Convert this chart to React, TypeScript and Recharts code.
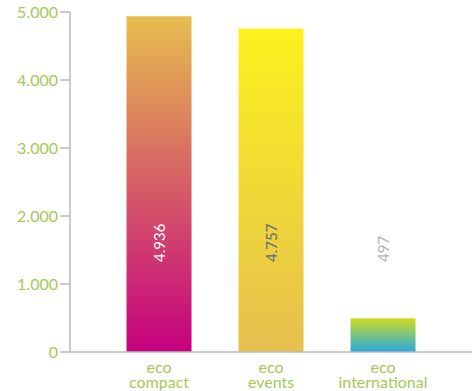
import React from "react";
import { BarChart, Bar, XAxis, YAxis, Cell, LabelList } from "recharts";

const categories = ["eco\ncompact", "eco\nevents", "eco\ninternational"];
const values = [4936, 4757, 497];
const yTicks = [0, 1000, 2000, 3000, 4000, 5000];
const valueLabels = ["4.936", "4.757", "497"];

const gradients = [
  { id: "gCompact", top: "#e6bd4e", bottom: "#c5007f" },
  { id: "gEvents", top: "#fcf11e", bottom: "#e5bf4f" },
  { id: "gIntl", top: "#d0dd22", bottom: "#27a9e1" },
];
const labelColors = ["#ffffff", "#5f6b78", "#b3b3b3"];

const data = categories.map((c, i) => ({ name: c, value: values[i], label: valueLabels[i], idx: i }));

const GREEN = "#a4c958";
const AXIS = "#b8b8b8";
const FONT = "Lato, 'Open Sans', sans-serif";

const fmt = (v: number) => v.toLocaleString("de-DE");

const XTick = (props: any) => {
  const { x, y, payload } = props;
  const lines = String(payload.value).split("\n");
  return (
    <g>
      {lines.map((l: string, i: number) => (
        <text
          key={i}
          x={x}
          y={y + 13 + i * 15}
          textAnchor="middle"
          fill={GREEN}
          fontFamily={FONT}
          fontWeight={400}
          fontSize={16}
        >
          {l}
        </text>
      ))}
    </g>
  );
};

const ValueLabel = (props: any) => {
  const { x, y, width, height, index } = props;
  const cx = x + width / 2;
  const by = y + height - 90;
  return (
    <text
      x={cx}
      y={by}
      transform={`rotate(-90 ${cx} ${by})`}
      textAnchor="start"
      dominantBaseline="central"
      fill={labelColors[index]}
      fontFamily={FONT}
      fontWeight={400}
      fontSize={15}
    >
      {valueLabels[index]}
    </text>
  );
};

export default function App() {
  return (
    <div style={{ position: "absolute", left: 0, top: 0 }}>
      <BarChart width={474} height={391} data={data} margin={{ top: 12, right: 2, bottom: 0, left: 0 }} barCategoryGap="21%">
        <defs>
          {gradients.map((g) => (
            <linearGradient key={g.id} id={g.id} x1="0" y1="0" x2="0" y2="1">
              <stop offset="0%" stopColor={g.top} />
              <stop offset="100%" stopColor={g.bottom} />
            </linearGradient>
          ))}
        </defs>
        <XAxis
          dataKey="name"
          height={39}
          padding={{ left: 33, right: 33 }}
          axisLine={{ stroke: AXIS, strokeWidth: 1.5 }}
          tickLine={false}
          tick={<XTick />}
          interval={0}
        />
        <YAxis
          width={70}
          domain={[0, 5000]}
          ticks={yTicks}
          tickFormatter={fmt}
          axisLine={{ stroke: AXIS, strokeWidth: 1.5 }}
          tickLine={{ stroke: AXIS, strokeWidth: 1.5 }}
          tickSize={10}
          tick={{ fill: GREEN, fontFamily: FONT, fontWeight: 400, fontSize: 16 }}
        />
        <Bar dataKey="value" isAnimationActive={false}>
          {data.map((d, i) => (
            <Cell key={i} fill={`url(#${gradients[i].id})`} />
          ))}
          <LabelList dataKey="label" content={<ValueLabel />} />
        </Bar>
      </BarChart>
    </div>
  );
}
